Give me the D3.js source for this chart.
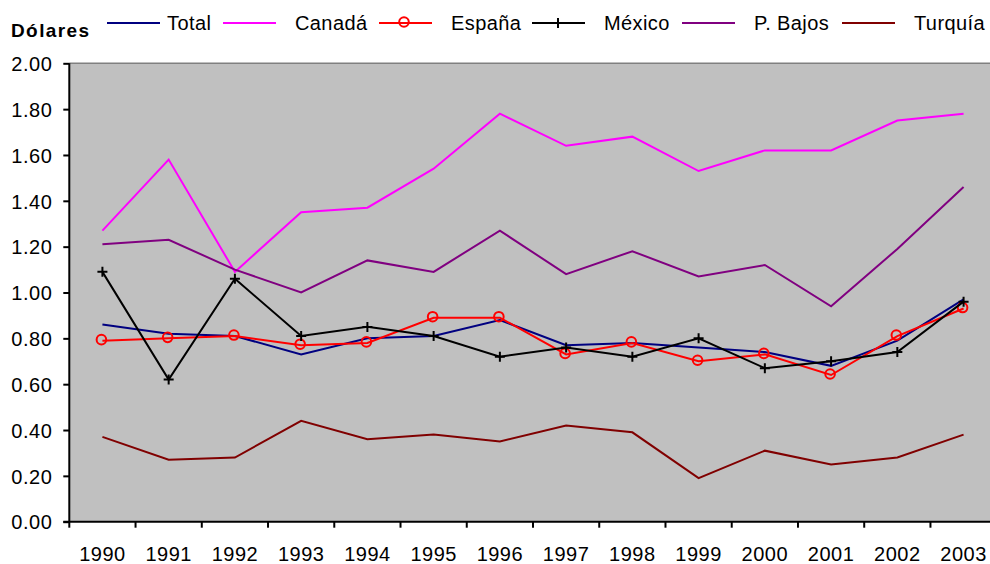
<!DOCTYPE html>
<html lang="es">
<head>
    <meta charset="UTF-8">
    <title>Dólares</title>
    <script src="https://d3js.org/d3.v7.min.js"></script>
    <style>
        html, body {
            margin: 0;
            padding: 0;
            background-color: #ffffff;
        }
        svg {
            display: block;
            font-family: "Liberation Sans", Arial, sans-serif;
        }
        .axis text {
            font-size: 20px;
            letter-spacing: 0.5px;
            fill: #000000;
        }
    </style>
</head>
<body>
<svg id='canvas'></svg>

<script>
// values
let years = ['1990', '1991', '1992', '1993', '1994', '1995', '1996', '1997', '1998', '1999', '2000', '2001', '2002', '2003']
let yTicks = [0, 0.2, 0.4, 0.6, 0.8, 1.0, 1.2, 1.4, 1.6, 1.8, 2.0]

let total   = [0.86, 0.82, 0.81, 0.73, 0.80, 0.81, 0.88, 0.77, 0.78, 0.76, 0.74, 0.68, 0.79, 0.97]
let canada  = [1.27, 1.58, 1.09, 1.35, 1.37, 1.54, 1.78, 1.64, 1.68, 1.53, 1.62, 1.62, 1.75, 1.78]
let espana  = [0.79, 0.80, 0.81, 0.77, 0.78, 0.89, 0.89, 0.73, 0.78, 0.70, 0.73, 0.64, 0.81, 0.93]
let mexico  = [1.09, 0.62, 1.06, 0.81, 0.85, 0.81, 0.72, 0.76, 0.72, 0.80, 0.67, 0.70, 0.74, 0.96]
let pbajos  = [1.21, 1.23, 1.10, 1.00, 1.14, 1.09, 1.27, 1.08, 1.18, 1.07, 1.12, 0.94, 1.19, 1.46]
let turquia = [0.37, 0.27, 0.28, 0.44, 0.36, 0.38, 0.35, 0.42, 0.39, 0.19, 0.31, 0.25, 0.28, 0.38]

let seriesNames = ['Total', 'Canadá', 'España', 'México', 'P. Bajos', 'Turquía']
let seriesValues = [total, canada, espana, mexico, pbajos, turquia]

let colors = ['#000080', '#ff00ff', '#ff0000', '#000000', '#800080', '#800000']
let markers = ['none', 'none', 'circle', 'plus', 'none', 'none']

let width = 990
let height = 564
let plot = { left: 69.3, right: 996.7, top: 63.3, bottom: 521.7 }

let canvas = d3.select('#canvas')
    .attr('width', width)
    .attr('height', height)

let x = d3.scaleBand()
    .domain(years)
    .range([plot.left, plot.right])
    .padding(0)

let y = d3.scaleLinear()
    .domain([0, 2])
    .range([plot.bottom, plot.top])

let cx = (year) => x(year) + x.bandwidth() / 2

// plot background
canvas.append('rect')
    .attr('x', plot.left)
    .attr('y', plot.top)
    .attr('width', plot.right - plot.left)
    .attr('height', plot.bottom - plot.top)
    .attr('fill', '#c0c0c0')

canvas.append('line')
    .attr('x1', plot.left)
    .attr('x2', plot.right)
    .attr('y1', plot.top)
    .attr('y2', plot.top)
    .attr('stroke', '#808080')
    .attr('stroke-width', 1.5)

// y axis
let yAxis = d3.axisLeft(y)
    .tickValues(yTicks)
    .tickFormat(d3.format('.2f'))
    .tickSize(6)
    .tickPadding(11)

let yG = canvas.append('g')
    .attr('class', 'axis')
    .attr('transform', 'translate(' + plot.left + ',0)')
    .call(yAxis)
yG.select('.domain').remove()
yG.selectAll('line').attr('stroke', '#000').attr('stroke-width', 2)
yG.selectAll('text').attr('dy', '0.36em')

// x axis labels (centered in each category)
let xAxis = d3.axisBottom(x)
    .tickSize(0)
    .tickPadding(25)

let xG = canvas.append('g')
    .attr('class', 'axis')
    .attr('transform', 'translate(0,' + plot.bottom + ')')
    .call(xAxis)
xG.select('.domain').remove()

// x ticks between categories
canvas.append('g')
    .selectAll('line')
    .data(years)
    .enter()
    .append('line')
    .attr('x1', (d) => x(d))
    .attr('x2', (d) => x(d))
    .attr('y1', plot.bottom)
    .attr('y2', plot.bottom + 6)
    .attr('stroke', '#000')
    .attr('stroke-width', 2)

// axis lines
canvas.append('line')
    .attr('x1', plot.left)
    .attr('x2', plot.left)
    .attr('y1', plot.top)
    .attr('y2', plot.bottom)
    .attr('stroke', '#000')
    .attr('stroke-width', 2)

canvas.append('line')
    .attr('x1', plot.left - 6)
    .attr('x2', plot.right)
    .attr('y1', plot.bottom)
    .attr('y2', plot.bottom)
    .attr('stroke', '#000')
    .attr('stroke-width', 2)

// series lines
let line = d3.line()
    .x((d, i) => cx(years[i]))
    .y((d) => y(d))

let drawMarker = (g, type, color, px, py) => {
    if(type === 'circle'){
        g.append('circle')
            .attr('cx', px - 1)
            .attr('cy', py - 1)
            .attr('r', 4.8)
            .attr('fill', 'none')
            .attr('stroke', color)
            .attr('stroke-width', 2)
    }else if(type === 'plus'){
        g.append('path')
            .attr('d', 'M' + (px - 5) + ',' + py + 'H' + (px + 5) + 'M' + px + ',' + (py - 5) + 'V' + (py + 5))
            .attr('fill', 'none')
            .attr('stroke', color)
            .attr('stroke-width', 2)
    }
}

let series = canvas.append('g')

seriesValues.forEach((values, s) => {
    let g = series.append('g')
    g.append('path')
        .datum(values)
        .attr('d', line)
        .attr('fill', 'none')
        .attr('stroke', colors[s])
        .attr('stroke-width', 2)
        .attr('stroke-linejoin', 'miter')

    values.forEach((v, i) => {
        drawMarker(g, markers[s], colors[s], cx(years[i]), y(v))
    })
})

// legend
let legendX = [107, 223, 379, 532, 682, 842]
let legendText = [167, 295, 451, 604, 754, 914]
let legendY = 23

canvas.append('text')
    .attr('x', 11)
    .attr('y', 37)
    .attr('font-size', '19px')
    .attr('font-weight', 'bold')
    .attr('letter-spacing', '1.4px')
    .text('Dólares')

let legend = canvas.append('g')

seriesNames.forEach((name, s) => {
    legend.append('line')
        .attr('x1', legendX[s])
        .attr('x2', legendX[s] + 53)
        .attr('y1', legendY)
        .attr('y2', legendY)
        .attr('stroke', colors[s])
        .attr('stroke-width', 2)
    drawMarker(legend, markers[s], colors[s], legendX[s] + 26, legendY)

    legend.append('text')
        .attr('x', legendText[s])
        .attr('y', 30)
        .attr('font-size', '20px')
        .attr('letter-spacing', '0.4px')
        .attr('fill', '#000')
        .text(name)
})
</script>
</body>
</html>
